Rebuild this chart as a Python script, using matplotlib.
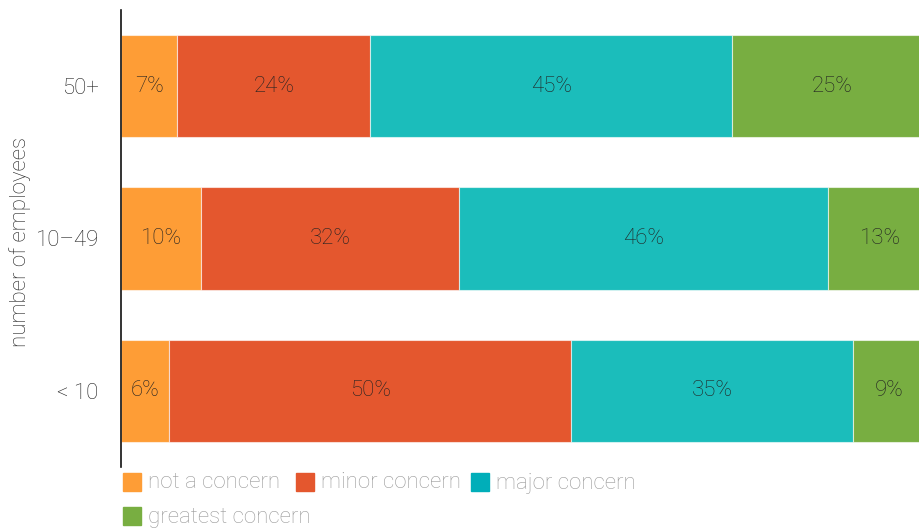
import matplotlib.pyplot as plt
from matplotlib.patches import Rectangle

plt.rcParams['font.family'] = ['Roboto', 'DejaVu Sans']
plt.rcParams['font.weight'] = 'light'

groups = ["< 10", "10\u201349", "50+"]
series = ["not a concern", "minor concern", "major concern", "greatest concern"]
not_a_concern = [6, 10, 7]
minor_concern = [50, 32, 24]
major_concern = [35, 46, 45]
greatest_concern = [9, 13, 25]

bar_colors = ["#fe9d36", "#e4572e", "#1bbdbb", "#78ae41"]
key_colors = ["#fe9d36", "#e4572e", "#00aeb9", "#78ae41"]

W, H = 920, 529
fig = plt.figure(figsize=(W / 100, H / 100), dpi=100)
# x axis runs a little past the right edge so 100%+ rows get cut off
ax = fig.add_axes([121 / W, 62 / H, 812 / W, 457 / H])

values = [not_a_concern, minor_concern, major_concern, greatest_concern]
ypos = range(len(groups))
left = [0] * len(groups)
for vals, col in zip(values, bar_colors):
    bars = ax.barh(ypos, vals, left=left, height=0.67, color=col,
                   edgecolor=(1, 1, 1, 0.6), linewidth=0.8)
    for b, v in zip(bars, vals):
        ax.text(b.get_x() + b.get_width() / 2, b.get_y() + b.get_height() / 2,
                f"{v}%", ha="center", va="center", fontsize=16,
                color="#222222")
    left = [l + v for l, v in zip(left, vals)]

ax.set_xlim(0, 101)
ax.set_ylim(-0.5, 2.5)
ax.set_yticks(list(ypos))
ax.set_yticklabels(groups, fontsize=16, color="#222222")
ax.tick_params(axis="y", length=0, pad=16)
ax.set_xticks([])
for s in ["top", "right", "bottom"]:
    ax.spines[s].set_visible(False)
ax.spines["left"].set_linewidth(1.2)
ax.spines["left"].set_color("#111111")

fig.text(20 / W, 1 - 242 / H, "number of employees", rotation=90,
         ha="center", va="center", fontsize=16, color="#222222")

# legend keys laid out in wrapping rows
key_pos = [(123, 482), (296, 482), (471, 482), (123, 516)]
for (kx, ky), name, col in zip(key_pos, series, key_colors):
    fig.add_artist(Rectangle((kx / W, 1 - (ky + 9) / H), 18 / W, 18 / H,
                             transform=fig.transFigure, color=col))
    fig.text((kx + 25) / W, 1 - (ky + 1) / H, name, ha="left", va="center",
             fontsize=16, color="#999999")

fig.savefig("out.png", dpi=100)
